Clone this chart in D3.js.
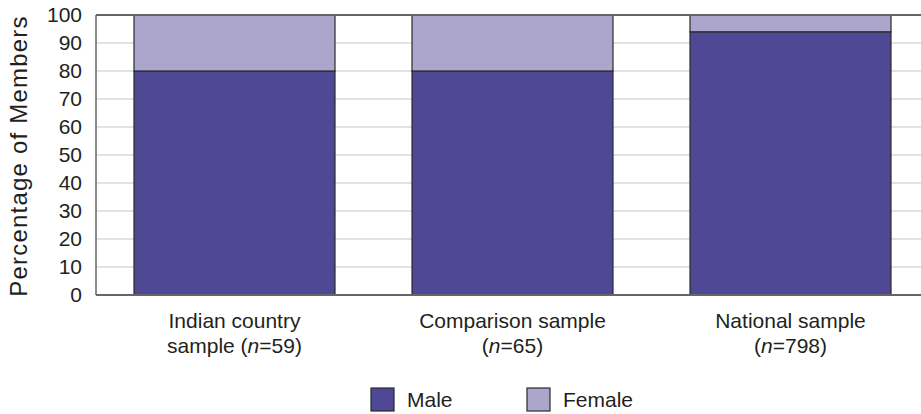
<!DOCTYPE html>
<html><head><meta charset="utf-8">
<script src="https://cdn.jsdelivr.net/npm/d3@7"></script>
<style>body{margin:0;background:#fff}svg{display:block}text{font-family:"Liberation Sans",Arial,Helvetica,sans-serif;fill:#231f20}</style>
</head><body>
<svg id="c" width="921" height="414"></svg>
<script>
const categories = ["Indian country sample", "Comparison sample", "National sample"];
const labelLine1 = ["Indian country", "Comparison sample", "National sample"];
const labelLine2Pre = ["sample (", "(", "("];
const nValues = ["59", "65", "798"];
const male = [80, 80, 94];
const female = [20, 20, 6];
const seriesNames = ["Male", "Female"];
const yTicks = [0,10,20,30,40,50,60,70,80,90,100];

(function(){
const colors = {Male:"#4f4894", Female:"#aca6cc"};
const svg = d3.select("#c");
const mLeft = 96, mTop = 15, mBottom = 295, mRight = 921;

const y = d3.scaleLinear().domain([0,100]).range([mBottom, mTop]);
const x = d3.scaleBand().domain(categories).range([96, 929]).paddingInner(0.277).paddingOuter(0.1367);

// gridlines
svg.append("g").selectAll("line").data(yTicks.filter(t=>t>0 && t<100)).join("line")
  .attr("x1", mLeft).attr("x2", mRight).attr("y1", d=>y(d)).attr("y2", d=>y(d))
  .attr("stroke", "#d9d9d9").attr("stroke-width", 1.5);

// stacked bars
const data = categories.map((c,i)=>({cat:c, Male:male[i], Female:female[i]}));
const stack = d3.stack().keys(seriesNames)(data);
svg.append("g").selectAll("g").data(stack).join("g")
  .attr("fill", d=>colors[d.key])
  .selectAll("rect").data(d=>d).join("rect")
  .attr("x", d=>x(d.data.cat)).attr("width", x.bandwidth())
  .attr("y", d=>y(d[1])).attr("height", d=>y(d[0])-y(d[1]))
  .attr("stroke", "#2a2a2a").attr("stroke-width", 1.2);

// axes lines
svg.append("line").attr("x1", mLeft).attr("x2", mRight).attr("y1", mTop).attr("y2", mTop).attr("stroke", "#666").attr("stroke-width", 2);
svg.append("line").attr("x1", mLeft).attr("x2", mLeft).attr("y1", mTop).attr("y2", mBottom).attr("stroke", "#666").attr("stroke-width", 1.5);
svg.append("line").attr("x1", mLeft).attr("x2", mRight).attr("y1", mBottom).attr("y2", mBottom).attr("stroke", "#666").attr("stroke-width", 2);

// y axis tick labels
const yAxis = d3.axisLeft(y).tickValues(yTicks).tickSize(0).tickPadding(14);
const ya = svg.append("g").attr("transform", `translate(${mLeft},0)`).call(yAxis);
ya.select(".domain").remove();
ya.selectAll("text").attr("font-size", 21).style("font-family", '"Liberation Sans",Arial,sans-serif').attr("fill", "#231f20");

// y label
svg.append("text").attr("transform", `translate(27,156) rotate(-90)`)
  .attr("text-anchor", "middle").attr("font-size", 24).attr("letter-spacing", 1.2).text("Percentage of Members");

// x labels
categories.forEach((c,i)=>{
  const cx = x(c) + x.bandwidth()/2;
  svg.append("text").attr("x", cx).attr("y", 328).attr("text-anchor","middle").attr("font-size",21).text(labelLine1[i]);
  const t = svg.append("text").attr("x", cx).attr("y", 353).attr("text-anchor","middle").attr("font-size",21);
  t.append("tspan").text(labelLine2Pre[i]);
  t.append("tspan").attr("font-style","italic").text("n");
  t.append("tspan").text("=" + nValues[i] + ")");
});

// legend
const legX = [371, 527];
seriesNames.forEach((s,i)=>{
  svg.append("rect").attr("x", legX[i]).attr("y", 388).attr("width", 23).attr("height", 23)
    .attr("fill", colors[s]).attr("stroke", "#2a2a2a").attr("stroke-width", 1.2);
  svg.append("text").attr("x", legX[i]+36).attr("y", 407).attr("font-size", 21).text(s);
});
})();
</script>
</body></html>
